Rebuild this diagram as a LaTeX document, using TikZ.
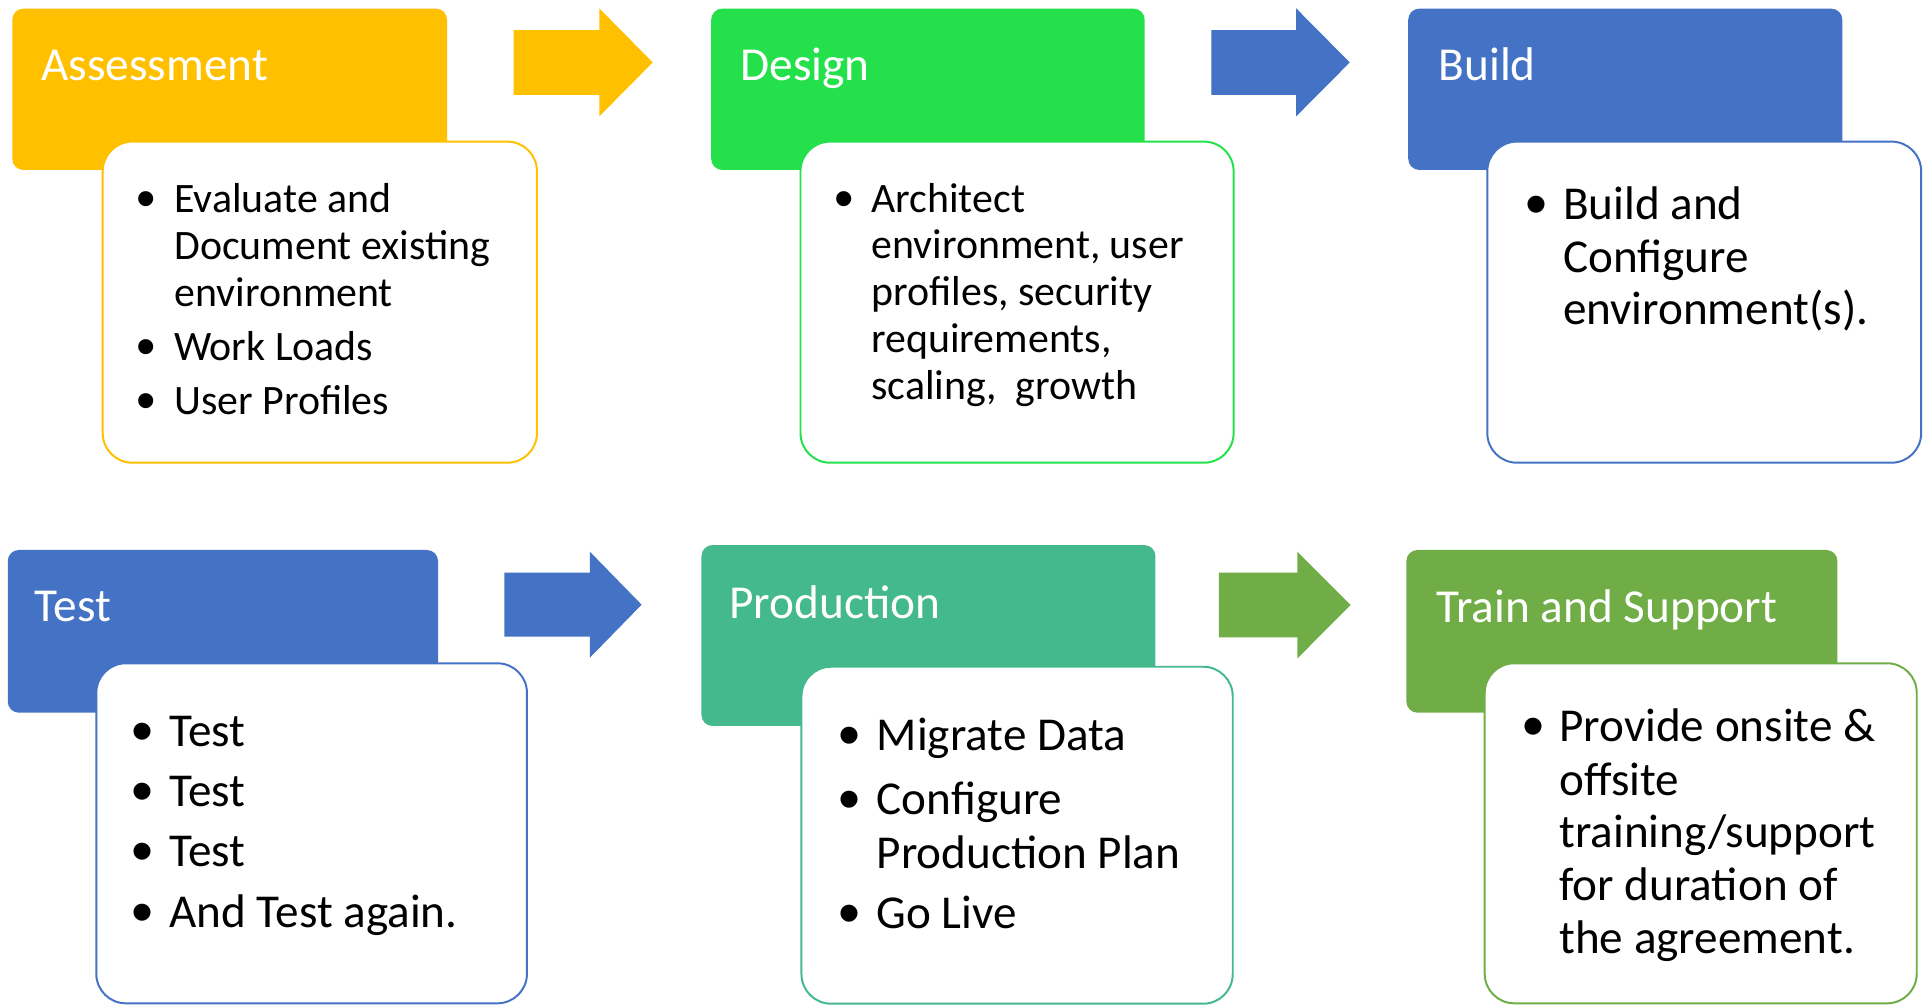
\documentclass[tikz,border=0pt]{standalone}
\usepackage{fontspec}
\setmainfont{Carlito}
\newfontfamily\bulletfont{Liberation Sans}
\definecolor{cyel}{HTML}{FFC000}
\definecolor{cgrn}{HTML}{24E14B}
\definecolor{cblu}{HTML}{4472C4}
\definecolor{cteal}{HTML}{44B98D}
\definecolor{colive}{HTML}{70AD47}
\newcommand\hdrfont{\fontsize{38.4}{45}\selectfont}
\newcommand\bodysm{\fontsize{34}{38}\selectfont}
\newcommand\bodylg{\fontsize{38.3}{43}\selectfont}
\newcommand\bulsm{\bulletfont\fontsize{45}{45}\selectfont}
\newcommand\bullg{\bulletfont\fontsize{51}{51}\selectfont}
\tikzset{
  hdr/.style={rectangle, rounded corners=9pt, inner sep=0pt, draw=none},
  bodybox/.style={rectangle, rounded corners=24pt, fill=white, line width=1.6pt, inner sep=0pt},
  htext/.style={anchor=base west, inner sep=0pt, text=white, font=\hdrfont},
  ltext/.style={anchor=base west, inner sep=0pt, text=black},
  bul/.style={anchor=center, inner sep=0pt, text=black},
  bulS/.style={bul, font=\bulsm, yshift=6pt},
  bulL/.style={bul, font=\bullg, yshift=7.2pt}
}
\begin{document}
\begin{tikzpicture}[x=1pt,y=-1pt]
\useasboundingbox (0,0) rectangle (1568,816);
\fill[white] (0,0) rectangle (1568,816);

% ---------- Assessment ----------
\node[hdr, fill=cyel, minimum width=353pt, minimum height=131pt] (h1) at (186.5,72.5) {};
\node[bodybox, draw=cyel, minimum width=352.6pt, minimum height=260.7pt] (b1) at (259.7,245.35) {};
\node[htext] (h1t) at (33.4,65) {Assessment};
\node[bulS] (b1p1) at (118.5,172.4) {•};
\node[ltext, font=\bodysm] (b1l1) at (141.4,172.4) {Evaluate and};
\node[ltext, font=\bodysm] (b1l2) at (141.4,210.5) {Document existing};
\node[ltext, font=\bodysm] (b1l3) at (141.4,248.5) {environment};
\node[bulS] (b1p2) at (118.5,292.4) {•};
\node[ltext, font=\bodysm] (b1l4) at (141.4,292.4) {Work Loads};
\node[bulS] (b1p3) at (118.5,336.3) {•};
\node[ltext, font=\bodysm] (b1l5) at (141.4,336.3) {User Profiles};

% arrow 1
\fill[cyel] (417,24.5) -- (486.6,24.5) -- (486.6,6.8) -- (530,50.7) -- (486.6,94.5) -- (486.6,77) -- (417,77) -- cycle;

% ---------- Design ----------
\node[hdr, fill=cgrn, minimum width=352pt, minimum height=131pt] (h2) at (753.5,72.5) {};
\node[bodybox, draw=cgrn, minimum width=351.7pt, minimum height=260.7pt] (b2) at (825.85,245.35) {};
\node[htext] (h2t) at (601,65) {Design};
\node[bulS] (b2p1) at (685.6,172.4) {•};
\node[ltext, font=\bodysm] (b2l1) at (707.4,172.4) {Architect};
\node[ltext, font=\bodysm] (b2l2) at (707.4,210.3) {environment, user};
\node[ltext, font=\bodysm] (b2l3) at (707.4,248.2) {profiles, security};
\node[ltext, font=\bodysm] (b2l4) at (707.4,286.1) {requirements,};
\node[ltext, font=\bodysm] (b2l5) at (707.4,324) {scaling,\ \ growth};

% arrow 2
\fill[cblu] (983.6,24.5) -- (1052.5,24.5) -- (1052.5,6.8) -- (1096,50.7) -- (1052.5,94.5) -- (1052.5,77) -- (983.6,77) -- cycle;

% ---------- Build ----------
\node[hdr, fill=cblu, minimum width=352.5pt, minimum height=131pt] (h3) at (1319.75,72.5) {};
\node[bodybox, draw=cblu, minimum width=352.3pt, minimum height=260.7pt] (b3) at (1383.85,245.35) {};
\node[htext] (h3t) at (1168,65) {Build};
\node[bulL] (b3p1) at (1247.6,178.6) {•};
\node[ltext, font=\bodylg] (b3l1) at (1269,178.6) {Build and};
\node[ltext, font=\bodylg] (b3l2) at (1269,221.2) {Configure};
\node[ltext, font=\bodylg] (b3l3) at (1269,263.8) {environment(s).};

% ---------- Test ----------
\node[hdr, fill=cblu, minimum width=349.4pt, minimum height=132.1pt] (h4) at (181,512.65) {};
\node[bodybox, draw=cblu, minimum width=349.7pt, minimum height=276.1pt] (b4) at (253.05,676.65) {};
\node[htext] (h4t) at (28.2,504.8) {Test};
\node[bulL] (b4p1) at (116,606.3) {•};
\node[ltext, font=\bodylg] (b4l1) at (137.3,606.3) {Test};
\node[bulL] (b4p2) at (116,655) {•};
\node[ltext, font=\bodylg] (b4l2) at (137.3,655) {Test};
\node[bulL] (b4p3) at (116,703.8) {•};
\node[ltext, font=\bodylg] (b4l3) at (137.3,703.8) {Test};
\node[bulL] (b4p4) at (116,753) {•};
\node[ltext, font=\bodylg] (b4l4) at (137.3,753) {And Test again.};

% arrow 3
\fill[cblu] (409.5,465) -- (479,465) -- (479,448) -- (521,491) -- (479,534) -- (479,517) -- (409.5,517) -- cycle;

% ---------- Production ----------
\node[hdr, fill=cteal, minimum width=368.6pt, minimum height=146.9pt] (h5) at (753.9,516.05) {};
\node[bodybox, draw=cteal, minimum width=350.2pt, minimum height=273.6pt] (b5) at (825.9,678.2) {};
\node[htext] (h5t) at (592,502) {Production};
\node[bulL] (b5p1) at (690,609.5) {•};
\node[ltext, font=\bodylg] (b5l1) at (711.7,609.5) {Migrate Data};
\node[bulL] (b5p2) at (690,661.3) {•};
\node[ltext, font=\bodylg] (b5l2) at (711.7,661.3) {Configure};
\node[ltext, font=\bodylg] (b5l3) at (711.7,705) {Production Plan};
\node[bulL] (b5p3) at (690,753.8) {•};
\node[ltext, font=\bodylg] (b5l4) at (711.7,753.8) {Go Live};

% arrow 4
\fill[colive] (989.7,465) -- (1053.5,465) -- (1053.5,448) -- (1096.7,491.3) -- (1053.5,534.6) -- (1053.5,517.5) -- (989.7,517.5) -- cycle;

% ---------- Train and Support ----------
\node[hdr, fill=colive, minimum width=350pt, minimum height=132.1pt] (h6) at (1317,512.65) {};
\node[bodybox, draw=colive, minimum width=350.8pt, minimum height=276.1pt] (b6) at (1381,676.65) {};
\node[htext] (h6t) at (1166,505.6) {Train and Support};
\node[bulL] (b6p1) at (1245,602.3) {•};
\node[ltext, font=\bodylg] (b6l1) at (1266,602.3) {Provide onsite \&};
\node[ltext, font=\bodylg] (b6l2) at (1266,645.6) {offsite};
\node[ltext, font=\bodylg] (b6l3) at (1266,688) {training/support};
\node[ltext, font=\bodylg] (b6l4) at (1266,731.4) {for duration of};
\node[ltext, font=\bodylg] (b6l5) at (1266,774.1) {the agreement.};
\end{tikzpicture}
\end{document}
